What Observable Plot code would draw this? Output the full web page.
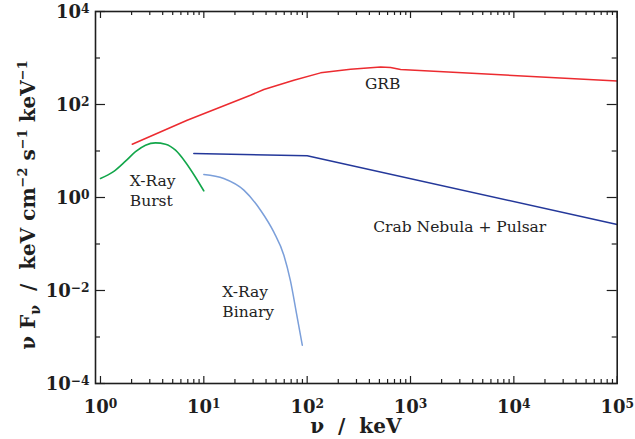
<!DOCTYPE html>
<html><head><meta charset="utf-8">
<script src="https://cdn.jsdelivr.net/npm/d3@7"></script>
<script src="https://cdn.jsdelivr.net/npm/@observablehq/plot@0.6"></script>
<style>body{margin:0;background:#fff} svg{display:block}</style>
</head><body><div id="chart"></div>
<script>
// ---- data ----
const grbX = [2.03, 6.9, 28.3, 38.1, 74.3, 134.9, 263, 514, 641, 802, 1e5];
const grbY = [14.0, 45.9, 158.6, 210, 333, 479, 574, 644, 625, 566, 322];
const crabX = [8.0, 100, 1e5];
const crabY = [8.8, 7.9, 0.263];
const burstX = [1.0, 1.336, 1.746, 2.183, 2.727, 3.407, 4.258, 5.32, 6.65, 8.31, 10.0];
const burstY = [2.56, 3.59, 6.03, 9.66, 13.32, 14.94, 14.0, 10.4, 5.74, 2.73, 1.387];
const binaryX = [10.0, 15.6, 24.4, 35.4, 47.6, 59.5, 69.0, 78.9, 89.7];
const binaryY = [3.12, 2.56, 1.44, 0.533, 0.1794, 0.0574, 0.01585, 0.0032, 0.000667];

const labelText = ["GRB", "X-Ray\nBurst", "X-Ray\nBinary", "Crab Nebula + Pulsar"];
const labelX = [362, 1.92, 15.1, 436];
const labelY = [216, 0.65, 0.0027, 0.182];

const xMajor = [1, 10, 100, 1e3, 1e4, 1e5];
const xTickLabels = ["10^0", "10^1", "10^2", "10^3", "10^4", "10^5"];
const xMinor = [];
for (let d = 0; d < 5; d++) for (let m = 2; m <= 9; m++) xMinor.push(m * Math.pow(10, d));
const yMajor = [1e-4, 1e-2, 1, 1e2, 1e4];
const yTickLabels = ["10^−4", "10^−2", "10^0", "10^2", "10^4"];
const yMinor = [1e-3, 1e-1, 10, 1e3];

// ---- layout ----
const W = 635, H = 439, mL = 95, mR = 18.3, mT = 11, mB = 56;
const innerW = W - mL - mR, innerH = H - mT - mB;
const ink = "#1e1e1e";
const serif = "'DejaVu Serif', serif";

const series = (xs, ys) => xs.map((x, i) => ({x, y: ys[i]}));
const labels = labelText.map((t, i) => ({t, x: labelX[i], y: labelY[i]}));

const plot = Plot.plot({
  width: W, height: H,
  marginLeft: mL, marginRight: mR, marginTop: mT, marginBottom: mB,
  x: {type: "log", domain: [0.895, 1e5], axis: null},
  y: {type: "log", domain: [1e-4, 1e4], axis: null},
  style: {fontFamily: serif, background: "#fff"},
  marks: [
    Plot.line(series(grbX, grbY), {x: "x", y: "y", stroke: "#ec2b30", strokeWidth: 1.5}),
    Plot.line(series(crabX, crabY), {x: "x", y: "y", stroke: "#24389a", strokeWidth: 1.5}),
    Plot.line(series(burstX, burstY), {x: "x", y: "y", stroke: "#12a64a", strokeWidth: 1.6, curve: "monotone-x"}),
    Plot.line(series(binaryX, binaryY), {x: "x", y: "y", stroke: "#7b9fda", strokeWidth: 1.5, curve: "monotone-x"}),
    // inward ticks
    Plot.tickX(xMajor, {x: d => d, insetTop: innerH - 7, stroke: ink, strokeWidth: 1.2}),
    Plot.tickX(xMajor, {x: d => d, insetBottom: innerH - 7, stroke: ink, strokeWidth: 1.2}),
    Plot.tickX(xMinor, {x: d => d, insetTop: innerH - 4, stroke: ink, strokeWidth: 1.2}),
    Plot.tickX(xMinor, {x: d => d, insetBottom: innerH - 4, stroke: ink, strokeWidth: 1.2}),
    Plot.tickY(yMajor, {y: d => d, insetRight: innerW - 10, stroke: ink, strokeWidth: 1.2}),
    Plot.tickY(yMajor, {y: d => d, insetLeft: innerW - 10, stroke: ink, strokeWidth: 1.2}),
    Plot.tickY(yMinor, {y: d => d, insetRight: innerW - 5, stroke: ink, strokeWidth: 1.2}),
    Plot.tickY(yMinor, {y: d => d, insetLeft: innerW - 5, stroke: ink, strokeWidth: 1.2}),
    Plot.frame({stroke: ink, strokeWidth: 1.6}),
    // tick labels
    Plot.text(xMajor, {x: d => d, text: (d, i) => xTickLabels[i], frameAnchor: "bottom", lineAnchor: "top", dy: 17, fontSize: 18, fontWeight: "bold", fill: ink}),
    Plot.text(yMajor, {y: d => d, text: (d, i) => yTickLabels[i], frameAnchor: "left", textAnchor: "end", dx: -6, dy: 1, fontSize: 18, fontWeight: "bold", fill: ink}),
    // annotations
    Plot.text(labels, {x: "x", y: "y", text: "t", textAnchor: "start", lineAnchor: "bottom", lineHeight: 1.3, fontSize: 15.5, fill: "#222"})
  ]
});

const svg = d3.select(plot);
// superscripts in tick labels
svg.selectAll("text").each(function () {
  const m = /^10\^(.+)$/.exec(this.textContent);
  if (m) {
    const s = d3.select(this);
    s.text("10");
    s.append("tspan").attr("dy", "-0.45em").attr("font-size", "0.68em").text(m[1]);
  }
});

// axis titles
svg.append("text")
  .attr("x", mL + innerW / 2).attr("y", 433)
  .attr("text-anchor", "middle").attr("font-size", 20).attr("font-weight", "bold")
  .attr("font-family", serif).attr("fill", ink)
  .attr("xml:space", "preserve").style("white-space", "pre")
  .text("ν  /  keV");

const yl = svg.append("text")
  .attr("transform", `translate(35,${mT + innerH / 2 + 8}) rotate(-90)`)
  .attr("text-anchor", "middle").attr("font-size", 20).attr("font-weight", "bold")
  .attr("font-family", serif).attr("fill", ink)
  .style("white-space", "pre");
yl.append("tspan").text("ν F");
yl.append("tspan").attr("dy", 5).attr("font-size", 14).text("ν");
yl.append("tspan").attr("dy", -5).text("  /  keV cm");
yl.append("tspan").attr("dy", -8).attr("font-size", 13).text("−2");
yl.append("tspan").attr("dy", 8).text(" s");
yl.append("tspan").attr("dy", -8).attr("font-size", 13).text("−1");
yl.append("tspan").attr("dy", 8).text(" keV");
yl.append("tspan").attr("dy", -8).attr("font-size", 13).text("−1");

document.getElementById("chart").appendChild(plot);
</script>
</body></html>
